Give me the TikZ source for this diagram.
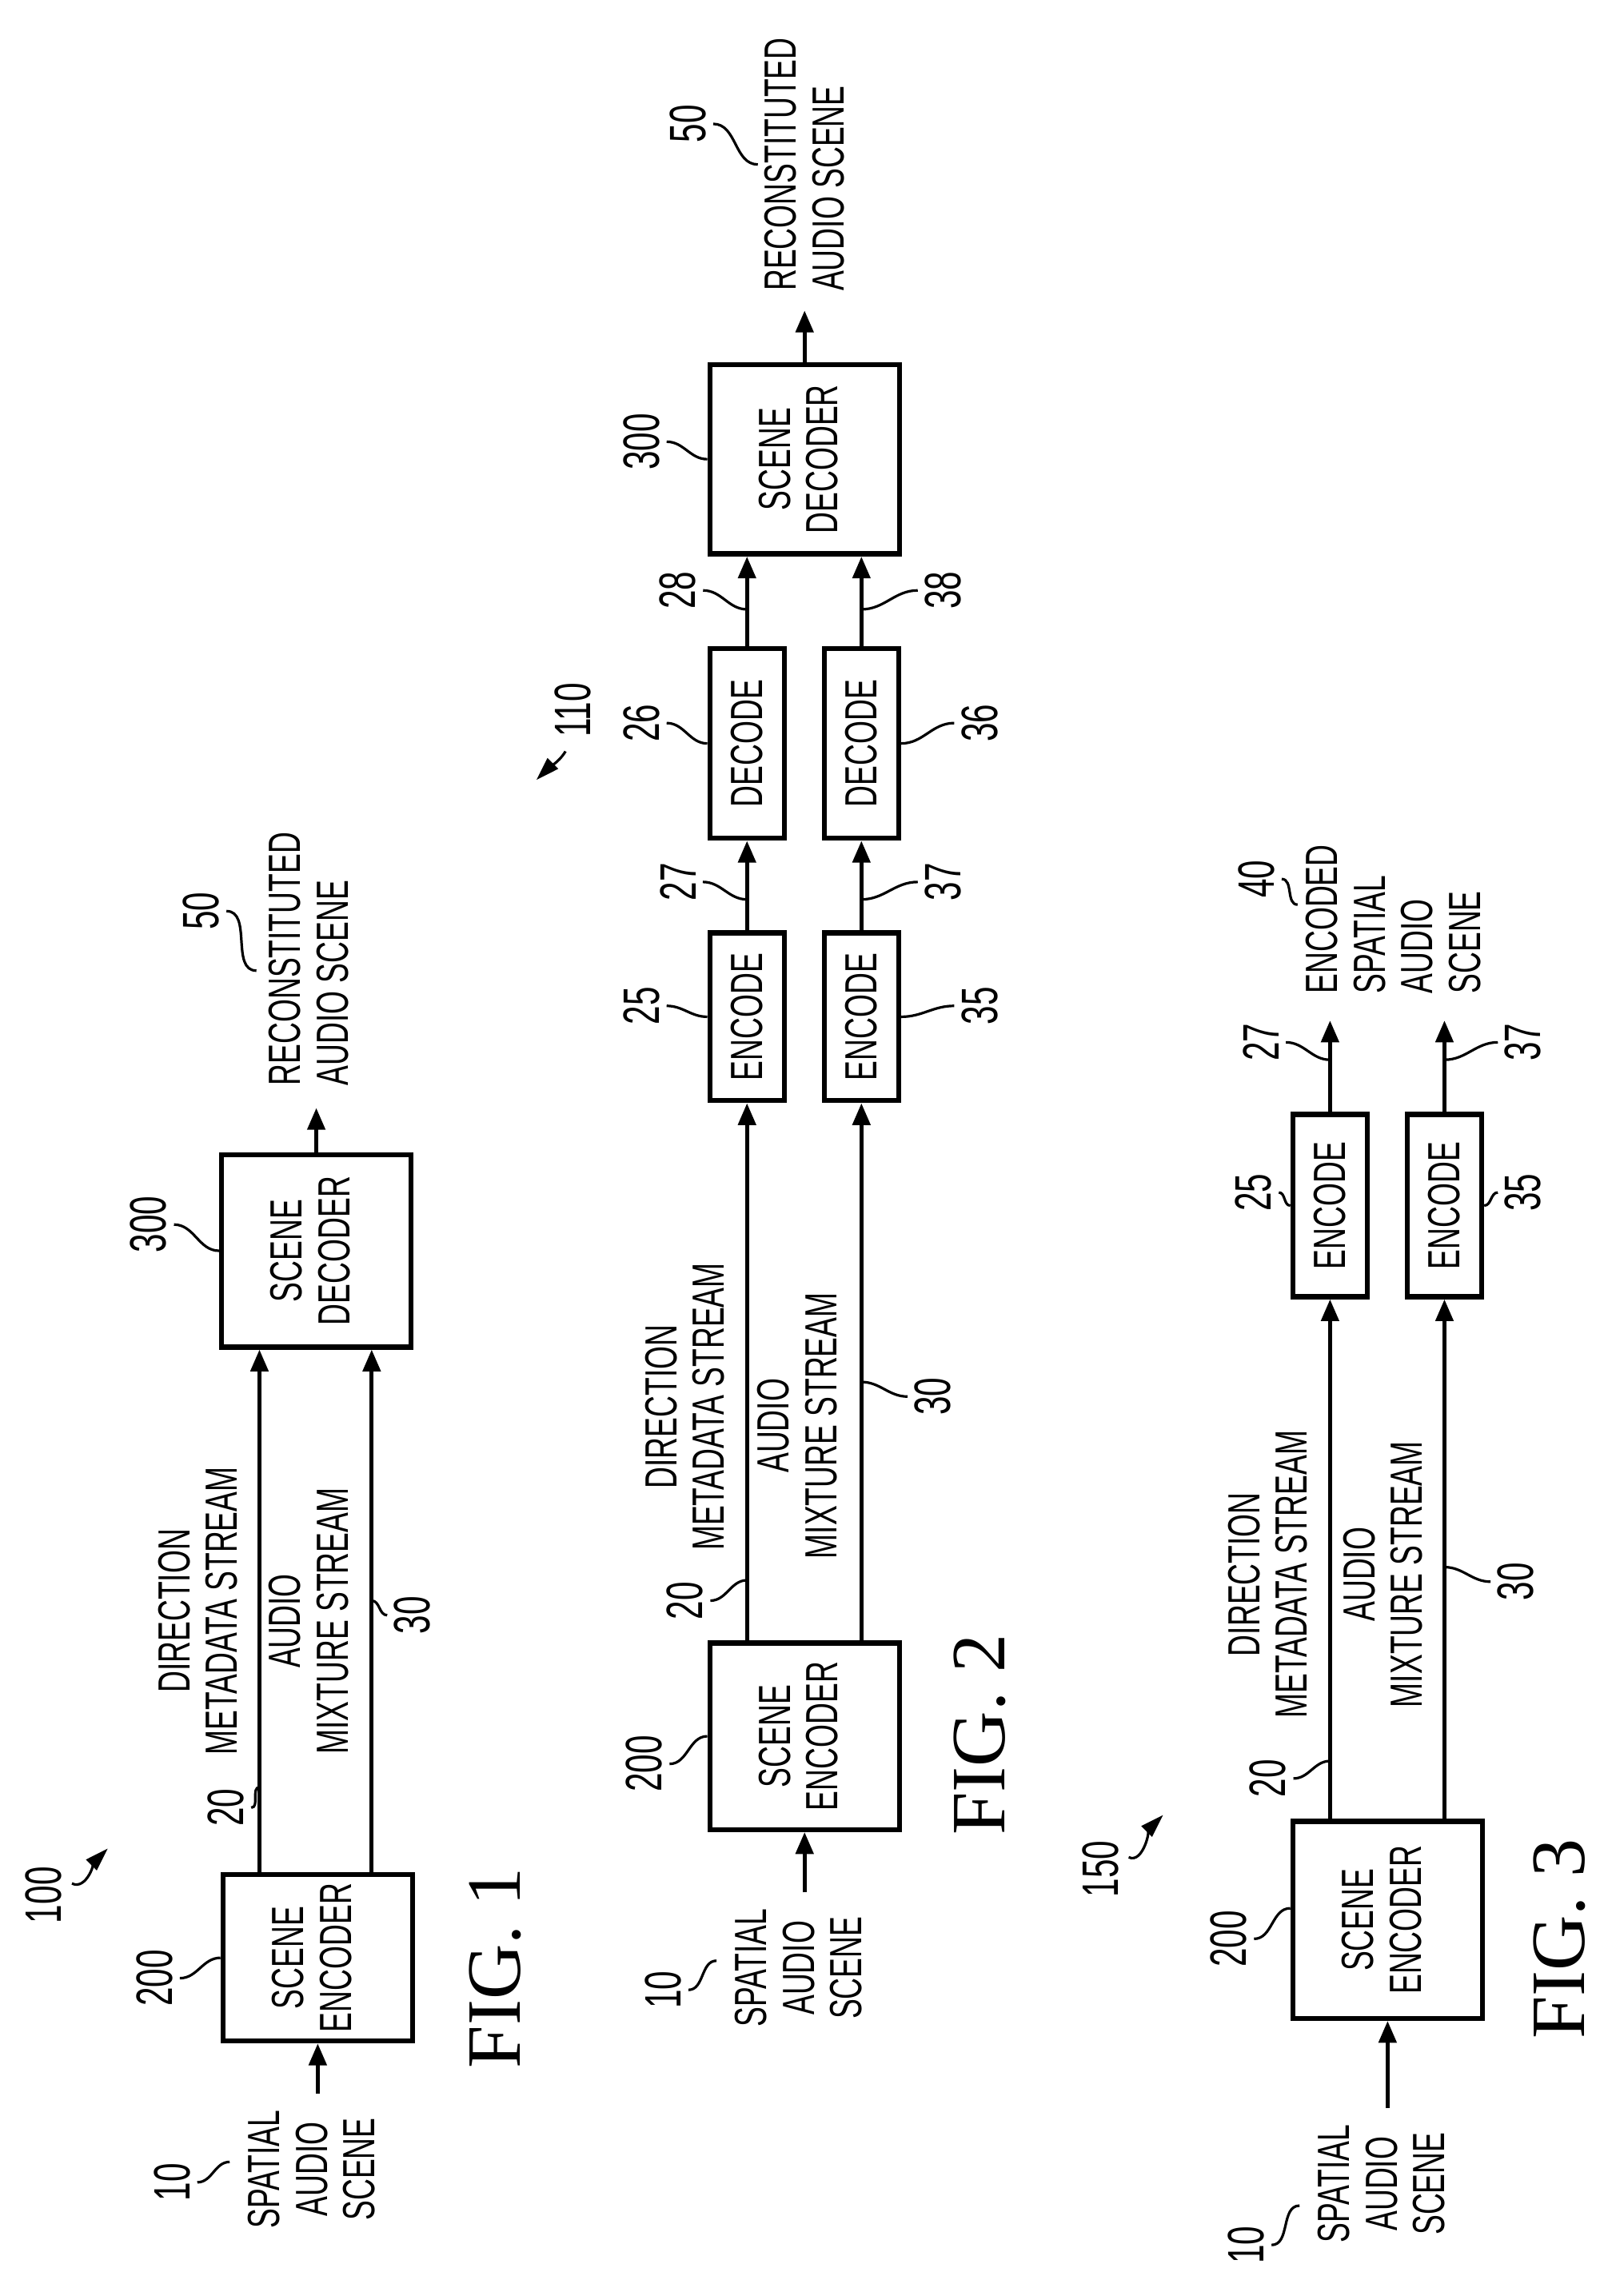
\documentclass[tikz,border=0pt]{standalone}
\usepackage{fontspec}
\setmainfont{Liberation Sans}[FakeStretch=0.66]
\newfontfamily\figfont{Liberation Serif}
\usetikzlibrary{arrows.meta,calc}
\newcommand\rtc[1]{\rotatebox{90}{\begin{tabular}{@{}c@{}}#1\end{tabular}}}
\newcommand\rtl[1]{\rotatebox{90}{\begin{tabular}{@{}l@{}}#1\end{tabular}}}
\begin{document}
\begin{tikzpicture}[x=0.1mm,y=-0.1mm,line width=0.8pt,
  >={Triangle[length=1.5mm,width=1.2mm]},
  every node/.style={font=\fontsize{8.8}{9.3}\selectfont},
  box/.style={draw,line width=1pt,inner sep=0pt,align=center},
  lbl/.style={inner sep=1pt,font=\fontsize{10}{10}\selectfont},
  txt/.style={inner sep=0pt},
  lead/.style={line width=0.5pt},
  fig/.style={inner sep=0pt,font=\figfont\fontsize{15}{16}\selectfont}]
\useasboundingbox (0,0) rectangle (1097.6,1575);
% FIG. 1
\node[box,minimum width=13mm,minimum height=11.4mm] (enc1) at (218,1343) {\rtc{SCENE\\ENCODER}};
\node[box,minimum width=13mm,minimum height=13.2mm] (dec1) at (217,858) {\rtc{SCENE\\DECODER}};
\coordinate (a1) at (178,0);
\coordinate (b1) at (255,0);
\draw[->] (enc1.north -| a1) -- (dec1.south -| a1);
\draw[->] (enc1.north -| b1) -- (dec1.south -| b1);
\node[txt,inner sep=1mm] (sp1) at (218,1488) {\rtc{SPATIAL\\AUDIO\\SCENE}};
\draw[->] (sp1.north) -- (enc1.south);
\node[txt,anchor=south,inner sep=1.4mm] (rec1) at (216,760) {\rtl{RECONSTITUTED\\AUDIO SCENE}};
\draw[->] (dec1.north) -- (dec1.north |- rec1.south);
\node[txt] (dm1) at (140,1105) {\rtc{DIRECTION\\METADATA STREAM}};
\node[txt] (am1) at (216,1112) {\rtc{AUDIO\\MIXTURE STREAM}};
\node[lbl] (l10a) at (118,1497) {\rotatebox{90}{10}};
\draw[lead] (l10a.east) to[out=0,in=180] ($(sp1.west)+(0,-5)$);
\node[lbl] (l200a) at (106,1357) {\rotatebox{90}{200}};
\draw[lead] (l200a.east) to[out=0,in=180] (enc1.west);
\node[lbl] (l300a) at (102,840) {\rotatebox{90}{300}};
\draw[lead] (l300a.east) to[out=0,in=180] (dec1.west);
\node[lbl] (l50a) at (138,625) {\rotatebox{90}{50}};
\draw[lead] (l50a.east) to[out=0,in=180] ($(rec1.west)+(8,8)$);
\node[lbl] (l20a) at (155,1240) {\rotatebox{90}{20}};
\draw[lead] (l20a.east) to[out=0,in=180] ($(a1 |- l20a)+(0,-14)$);
\node[lbl] (l30a) at (283,1108) {\rotatebox{90}{30}};
\draw[lead] ($(b1 |- l30a)+(0,-10)$) to[out=0,in=180] (l30a.west);
\node[fig] (f1) at (340,1350) {\rotatebox{90}{FIG. 1}};
\node[lbl] (l100) at (30,1300) {\rotatebox{90}{100}};
\coordinate (t100) at (74,1268);
\draw[lead,->,>={Triangle[length=1.6mm,width=1mm]}] ($(l100.east)+(2,-8)$) .. controls +(10,5) and +(-8,8) .. (t100);
% FIG. 2
\node[box,minimum width=13mm,minimum height=12.8mm] (enc2) at (552,1191) {\rtc{SCENE\\ENCODER}};
\node[box,minimum width=5.1mm,minimum height=11.5mm] (e25) at (512.5,697.5) {\rotatebox{90}{ENCODE}};
\node[box,minimum width=5.1mm,minimum height=11.5mm] (e35) at (591,697.5) {\rotatebox{90}{ENCODE}};
\node[box,minimum width=5.1mm,minimum height=13mm] (d26) at (512.5,510) {\rotatebox{90}{DECODE}};
\node[box,minimum width=5.1mm,minimum height=13mm] (d36) at (591,510) {\rotatebox{90}{DECODE}};
\node[box,minimum width=13mm,minimum height=13mm] (dec2) at (552,315) {\rtc{SCENE\\DECODER}};
\draw[->] (enc2.north -| e25) -- (e25.south);
\draw[->] (enc2.north -| e35) -- (e35.south);
\draw[->] (e25.north) -- (d26.south);
\draw[->] (e35.north) -- (d36.south);
\draw[->] (d26.north) -- (dec2.south -| d26);
\draw[->] (d36.north) -- (dec2.south -| d36);
\node[txt,inner sep=1mm] (sp2) at (552,1350) {\rtc{SPATIAL\\AUDIO\\SCENE}};
\draw[->] (sp2.north) -- (enc2.south);
\node[txt,anchor=south,inner sep=1.2mm] (rec2) at (556,213) {\rtl{RECONSTITUTED\\AUDIO SCENE}};
\draw[->] (dec2.north) -- (dec2.north |- rec2.south);
\node[txt] (dm2) at (474,965) {\rtc{DIRECTION\\METADATA STREAM}};
\node[txt] (am2) at (551,978) {\rtc{AUDIO\\MIXTURE STREAM}};
\node[lbl] (l10b) at (455,1365) {\rotatebox{90}{10}};
\draw[lead] (l10b.east) to[out=0,in=180] ($(sp2.west)+(0,-5)$);
\node[lbl] (l200b) at (442,1210) {\rotatebox{90}{200}};
\draw[lead] (l200b.east) to[out=0,in=180] (enc2.west);
\node[lbl] (l300b) at (440,303) {\rotatebox{90}{300}};
\draw[lead] (l300b.east) to[out=0,in=180] (dec2.west);
\node[lbl] (l50b) at (472,85) {\rotatebox{90}{50}};
\draw[lead] (l50b.east) to[out=0,in=180] ($(rec2.west)+(10,0)$);
\node[lbl] (l25) at (440,690) {\rotatebox{90}{25}};
\draw[lead] (l25.east) to[out=0,in=180] (e25.west);
\node[lbl] (l35) at (672,690) {\rotatebox{90}{35}};
\draw[lead] (e35.east) to[out=0,in=180] (l35.west);
\node[lbl] (l26) at (440,496) {\rotatebox{90}{26}};
\draw[lead] (l26.east) to[out=0,in=180] (d26.west);
\node[lbl] (l36) at (672,496) {\rotatebox{90}{36}};
\draw[lead] (d36.east) to[out=0,in=180] (l36.west);
\node[lbl] (l27b) at (465,605) {\rotatebox{90}{27}};
\draw[lead] (l27b.east) to[out=0,in=180] ($(e25 |- l27b)+(0,12)$);
\node[lbl] (l37b) at (647,605) {\rotatebox{90}{37}};
\draw[lead] ($(e35 |- l37b)+(0,12)$) to[out=0,in=180] (l37b.west);
\node[lbl] (l28) at (465,405) {\rotatebox{90}{28}};
\draw[lead] (l28.east) to[out=0,in=180] ($(d26 |- l28)+(0,13)$);
\node[lbl] (l38) at (647,405) {\rotatebox{90}{38}};
\draw[lead] ($(d36 |- l38)+(0,13)$) to[out=0,in=180] (l38.west);
\node[lbl] (l20b) at (470,1098) {\rotatebox{90}{20}};
\draw[lead] (l20b.east) to[out=0,in=180] ($(e25 |- l20b)+(0,-14)$);
\node[lbl] (l30b) at (640,958) {\rotatebox{90}{30}};
\draw[lead] ($(e35 |- l30b)+(0,-10)$) to[out=0,in=180] (l30b.west);
\node[fig] (f2) at (672,1190) {\rotatebox{90}{FIG. 2}};
\node[lbl] (l110) at (393,487) {\rotatebox{90}{110}};
\coordinate (t110) at (368,535);
\draw[lead,->,>={Triangle[length=1.6mm,width=1mm]}] ($(l110.south)+(-5,5)$) .. controls +(-5,8) and +(8,-8) .. (t110);
% FIG. 3
\node[box,minimum width=13mm,minimum height=13.5mm] (enc3) at (952,1317) {\rtc{SCENE\\ENCODER}};
\node[box,minimum width=5.1mm,minimum height=12.5mm] (e25c) at (912.5,827) {\rotatebox{90}{ENCODE}};
\node[box,minimum width=5.1mm,minimum height=12.5mm] (e35c) at (991,827) {\rotatebox{90}{ENCODE}};
\draw[->] (enc3.north -| e25c) -- (e25c.south);
\draw[->] (enc3.north -| e35c) -- (e35c.south);
\coordinate (o27) at (912.5,700);
\coordinate (o37) at (991,700);
\draw[->] (e25c.north) -- (o27);
\draw[->] (e35c.north) -- (o37);
\node[txt,inner sep=1mm] (sp3) at (952,1498) {\rtc{SPATIAL\\AUDIO\\SCENE}};
\draw[->] (sp3.north) -- (enc3.south);
\node[txt,anchor=south] (es) at (960,683) {\rtl{ENCODED\\SPATIAL\\AUDIO\\SCENE}};
\node[txt] (dm3) at (874,1080) {\rtc{DIRECTION\\METADATA STREAM}};
\node[txt] (am3) at (953,1080) {\rtc{AUDIO\\MIXTURE STREAM}};
\node[lbl] (l10c) at (855,1540) {\rotatebox{90}{10}};
\draw[lead] (l10c.east) to[out=0,in=180] ($(sp3.west)+(0,15)$);
\node[lbl] (l200c) at (843,1330) {\rotatebox{90}{200}};
\draw[lead] (l200c.east) to[out=0,in=180] ($(enc3.west)+(0,-8)$);
\node[lbl] (l40) at (862,603) {\rotatebox{90}{40}};
\draw[lead] (l40.east) to[out=0,in=180] ($(es.west)+(-3,-10)$);
\node[lbl] (l25c) at (860,818) {\rotatebox{90}{25}};
\draw[lead] (l25c.east) to[out=0,in=180] (e25c.west);
\node[lbl] (l35c) at (1045,818) {\rotatebox{90}{35}};
\draw[lead] (e35c.east) to[out=0,in=180] (l35c.west);
\node[lbl] (l27c) at (865,715) {\rotatebox{90}{27}};
\draw[lead] (l27c.east) to[out=0,in=180] ($(e25c |- l27c)+(0,12)$);
\node[lbl] (l37c) at (1045,715) {\rotatebox{90}{37}};
\draw[lead] ($(e35c |- l37c)+(0,12)$) to[out=0,in=180] (l37c.west);
\node[lbl] (l20c) at (870,1220) {\rotatebox{90}{20}};
\draw[lead] (l20c.east) to[out=0,in=180] ($(e25c |- l20c)+(0,-12)$);
\node[lbl] (l30c) at (1040,1085) {\rotatebox{90}{30}};
\draw[lead] ($(e35c |- l30c)+(0,-10)$) to[out=0,in=180] (l30c.west);
\node[fig] (f3) at (1070,1330) {\rotatebox{90}{FIG. 3}};
\node[lbl] (l150) at (755,1282) {\rotatebox{90}{150}};
\coordinate (t150) at (798,1245);
\draw[lead,->,>={Triangle[length=1.6mm,width=1mm]}] ($(l150.east)+(2,-8)$) .. controls +(10,5) and +(-8,8) .. (t150);
\end{tikzpicture}
\end{document}
